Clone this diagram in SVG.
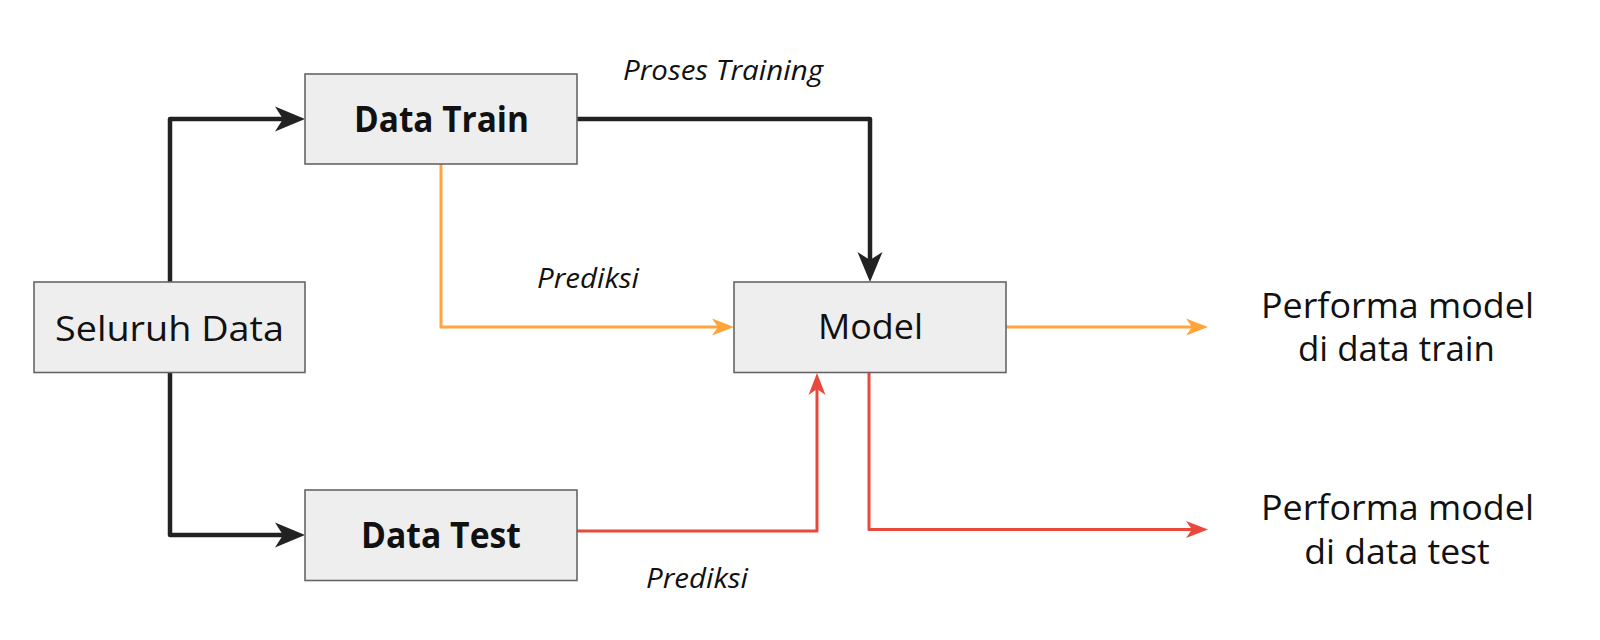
<svg xmlns="http://www.w3.org/2000/svg" width="1600" height="640" viewBox="0 0 1600 640">
<style>
.box{fill:#eeeeee;stroke:#666666;stroke-width:1.6}
.t{font-family:"Open Sans","Liberation Sans",sans-serif;fill:#111111;text-anchor:middle}
.n{font-size:35px}
.b{font-size:36px;font-weight:bold}
.i{font-size:28px;font-style:italic}
.k{fill:none;stroke:#222222;stroke-width:4.5;stroke-linejoin:round}
.o{fill:none;stroke:#ffa53a;stroke-width:3;stroke-linejoin:round}
.r{fill:none;stroke:#e9493b;stroke-width:3;stroke-linejoin:round}
</style>
<defs>
<marker id="ak" markerUnits="userSpaceOnUse" markerWidth="60" markerHeight="60" viewBox="-30 -30 60 60" refX="0" refY="0" orient="auto" overflow="visible">
<path d="M18,0 L-12,-12.5 L-4,0 L-12,12.5 Z" fill="#222222"/>
</marker>
<marker id="ao" markerUnits="userSpaceOnUse" markerWidth="40" markerHeight="40" viewBox="-20 -20 40 40" refX="0" refY="0" orient="auto" overflow="visible">
<path d="M14,0 L-8,-8.5 L-2,0 L-8,8.5 Z" fill="#ffa53a"/>
</marker>
<marker id="ar" markerUnits="userSpaceOnUse" markerWidth="40" markerHeight="40" viewBox="-20 -20 40 40" refX="0" refY="0" orient="auto" overflow="visible">
<path d="M14,0 L-8,-8.5 L-2,0 L-8,8.5 Z" fill="#e9493b"/>
</marker>
</defs>
<rect width="1600" height="640" fill="#ffffff"/>
<g id="connectors">
<path class="k" d="M170,282 L170,119 L287,119" marker-end="url(#ak)"/>
<path class="k" d="M170,373 L170,535 L287,535" marker-end="url(#ak)"/>
<path class="k" d="M577,119 L870,119 L870,264" marker-end="url(#ak)"/>
<path class="o" d="M441,164 L441,327 L720,327" marker-end="url(#ao)"/>
<path class="o" d="M1006,327 L1194,327" marker-end="url(#ao)"/>
<path class="r" d="M577,531 L817,531 L817,387" marker-end="url(#ar)"/>
<path class="r" d="M869,373 L869,529.5 L1194,529.5" marker-end="url(#ar)"/>
<text class="t i" x="723" y="80" textLength="200" lengthAdjust="spacingAndGlyphs">Proses Training</text>
<text class="t i" x="588" y="288" textLength="102" lengthAdjust="spacingAndGlyphs">Prediksi</text>
<text class="t i" x="697" y="588" textLength="102" lengthAdjust="spacingAndGlyphs">Prediksi</text>
</g>
<g id="seluruh-data">
<rect class="box" x="34" y="282" width="271" height="90.5"/>
<text class="t n" x="169.5" y="340.5" textLength="229" lengthAdjust="spacingAndGlyphs">Seluruh Data</text>
</g>
<g id="data-train">
<rect class="box" x="305" y="74" width="272" height="90"/>
<text class="t b" x="441.5" y="131.5" textLength="175" lengthAdjust="spacingAndGlyphs">Data Train</text>
</g>
<g id="data-test">
<rect class="box" x="305" y="490" width="272" height="90.5"/>
<text class="t b" x="441" y="548" textLength="160" lengthAdjust="spacingAndGlyphs">Data Test</text>
</g>
<g id="model">
<rect class="box" x="734" y="282" width="272" height="90.5"/>
<text class="t n" x="870.5" y="339" textLength="105" lengthAdjust="spacingAndGlyphs">Model</text>
</g>
<g id="performa-train">
<text class="t n" x="1397.5" y="317.5" textLength="273" lengthAdjust="spacingAndGlyphs">Performa model</text>
<text class="t n" x="1396.5" y="361" textLength="197" lengthAdjust="spacingAndGlyphs">di data train</text>
</g>
<g id="performa-test">
<text class="t n" x="1397.5" y="519.5" textLength="273" lengthAdjust="spacingAndGlyphs">Performa model</text>
<text class="t n" x="1397" y="563.5" textLength="185.5" lengthAdjust="spacingAndGlyphs">di data test</text>
</g>
</svg>
